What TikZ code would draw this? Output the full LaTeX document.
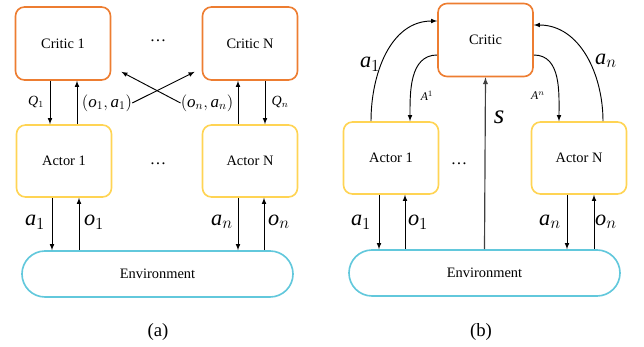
\documentclass[tikz,border=0pt]{standalone}
\usepackage{fontspec}
\setmainfont{Liberation Serif}
\usetikzlibrary{positioning}
\definecolor{critorange}{RGB}{237,125,49}
\definecolor{actyellow}{RGB}{255,212,84}
\definecolor{envcyan}{RGB}{98,200,220}
\newcommand{\mv}[1]{\mathit{#1}}
\tikzset{
	critic/.style={draw=critorange, line width=1.4pt, rectangle, rounded corners=0.27cm, minimum width=2.85cm, minimum height=2.19cm, font=\fontsize{12.3}{14}\selectfont},
	actor/.style={draw=actyellow, line width=1.4pt, rectangle, rounded corners=0.27cm, minimum width=2.85cm, minimum height=2.16cm, font=\fontsize{12.3}{14}\selectfont},
	envbox/.style={draw=envcyan, line width=1.4pt, rectangle, rounded corners=0.69cm, minimum width=8.13cm, minimum height=1.38cm, font=\fontsize{12.3}{14}\selectfont},
	dots/.style={font=\fontsize{14}{16}\selectfont},
	% labels on the arrows
	biglbl/.style={inner sep=0pt, font=\fontsize{19}{22}\selectfont},
	midlbl/.style={inner sep=0pt, font=\fontsize{14.5}{16}\selectfont},
	smalllbl/.style={inner sep=0pt, font=\fontsize{12}{14}\selectfont},
	tinylbl/.style={inner sep=0pt, font=\fontsize{10}{11}\selectfont},
	caption/.style={font=\fontsize{16}{18}\selectfont},
}

\begin{document}
\begin{tikzpicture}[x=0.03cm, y=-0.03cm]
	\useasboundingbox (0,0) rectangle (644,347);
	% (a) one critic per actor
	\node (c1) [critic] at (63,43.5) {Critic 1};
	\node (cn) [critic] at (250,43.5) {Critic N};
	\node (dc) [dots] at (158,41) {\ldots};
	\node (a1) [actor] at (64,161) {Actor 1};
	\node (an) [actor] at (250,161) {Actor N};
	\node (da) [dots] at (158,164) {\ldots};
	\node (env) [envbox] at (157.5,274) {Environment};
	\node (capa) [caption] at (158,332) {(a)};
	
	\node (q1) [smalllbl] at (36,102) {$\mv{Q}_1$};
	\node (oa1) [midlbl] at (107,103) {$(\mv{o}_1,\mv{a}_1)$};
	\node (oan) [midlbl] at (207,103) {$(\mv{o}_n,\mv{a}_n)$};
	\node (qn) [smalllbl] at (280,102) {$\mv{Q}_n$};
	\node (la1) [biglbl] at (35,222) {$\mv{a}_1$};
	\node (lo1) [biglbl] at (94,222) {$\mv{o}_1$};
	\node (lan) [biglbl] at (222,222) {$\mv{a}_n$};
	\node (lon) [biglbl] at (279,222) {$\mv{o}_n$};
	
	% (b) one shared critic
	\node (cr) [critic] at (485.5,40) {Critic};
	\node (b1) [actor] at (391,158) {Actor 1};
	\node (bn) [actor] at (579,158) {Actor N};
	\node (db) [dots] at (459,164) {\ldots};
	\node (benv) [envbox] at (484.5,273) {Environment};
	\node (capb) [caption] at (481,332) {(b)};
	
	\node (ua1) [biglbl] at (370,64) {$\mv{a}_1$};
	\node (uan) [biglbl] at (606,61) {$\mv{a}_n$};
	\node (adv1) [tinylbl] at (427,96) {$\mv{A}^1$};
	\node (advn) [tinylbl] at (538,96) {$\mv{A}^n$};
	\node (ls) [biglbl, font=\fontsize{23}{25}\selectfont] at (499,117) {$\mv{s}$};
	\node (ba1) [biglbl] at (361,222) {$\mv{a}_1$};
	\node (bo1) [biglbl] at (418,222) {$\mv{o}_1$};
	\node (ban) [biglbl] at (550,222) {$\mv{a}_n$};
	\node (bon) [biglbl] at (606,222) {$\mv{o}_n$};
	
	\begin{scope}[line width=0.8pt, black, ->, >=latex]
		\draw ([shift={(-13,0)}]c1.south) -- ([shift={(-14,0)}]a1.north);
		\draw ([shift={(13,0)}]a1.north) -- ([shift={(14,0)}]c1.south);
		\draw ([shift={(-12,0)}]an.north) -- ([shift={(-12,0)}]cn.south);
		\draw ([shift={(15,0)}]cn.south) -- ([shift={(15,0)}]an.north);
		\draw (oa1.east) -- ([shift={(-7,-9)}]cn.south west);
		\draw (oan.west) -- ([shift={(10,-9)}]c1.south east);
		\draw ([shift={(-12,0)}]a1.south) -- ([shift={(-12,0)}]a1.south |- env.north);
		\draw ([shift={(15,0)}]a1.south |- env.north) -- ([shift={(15,0)}]a1.south);
		\draw ([shift={(-12,0)}]an.south) -- ([shift={(-12,0)}]an.south |- env.north);
		\draw ([shift={(14,0)}]an.south |- env.north) -- ([shift={(14,0)}]an.south);
		
		\draw ([shift={(-20,0)}]b1.north) to[out=90, in=180] ([shift={(0,-19)}]cr.west);
		\draw ([shift={(0,15)}]cr.west) to[out=180, in=90] ([shift={(19,0)}]b1.north);
		\draw ([shift={(0,15)}]cr.east) to[out=0, in=90] ([shift={(-20,0)}]bn.north);
		\draw ([shift={(24,0)}]bn.north) to[out=90, in=0] ([shift={(0,-15)}]cr.east);
		\draw [black!75, line width=1pt] (benv.north) -- (cr.south);
		\draw ([shift={(-12,0)}]b1.south) -- ([shift={(-12,0)}]b1.south |- benv.north);
		\draw ([shift={(14,0)}]b1.south |- benv.north) -- ([shift={(14,0)}]b1.south);
		\draw ([shift={(-12,0)}]bn.south) -- ([shift={(-12,0)}]bn.south |- benv.north);
		\draw ([shift={(15,0)}]bn.south |- benv.north) -- ([shift={(15,0)}]bn.south);
	\end{scope}
\end{tikzpicture}
\end{document}
